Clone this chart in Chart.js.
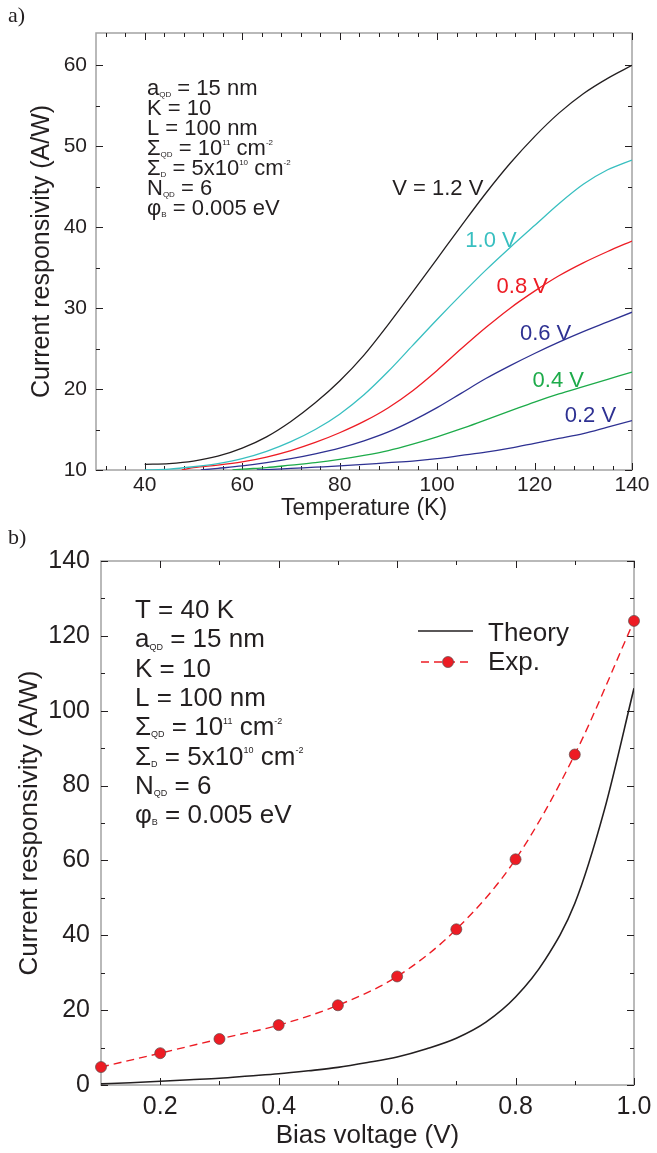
<!DOCTYPE html>
<html>
<head>
<meta charset="utf-8">
<script src="https://cdn.jsdelivr.net/npm/chart.js@4.4.0/dist/chart.umd.min.js"></script>
<style>
  body { margin: 0; background: #fff; width: 657px; height: 1153px; position: relative; overflow: hidden; }
  canvas { position: absolute; left: 0; }
  #chartA { top: 0; }
  #chartB { top: 515px; }
</style>
</head>
<body>
<canvas id="chartA" width="657" height="530"></canvas>
<canvas id="chartB" width="657" height="638"></canvas>
<script>
// ---------- panel a: responsivity vs temperature ----------
const tempA = [40, 45, 50, 55, 60, 65, 70, 75, 80, 85, 90, 95, 100, 105, 110, 115, 120, 125, 130, 135, 140];
const biasNames = ['V = 1.2 V', '1.0 V', '0.8 V', '0.6 V', '0.4 V', '0.2 V'];
const resp12 = [10.7, 10.8, 11.1, 11.7, 12.7, 14.1, 16.0, 18.3, 21.0, 24.2, 28.0, 32.0, 36.1, 40.2, 44.2, 47.9, 51.2, 54.1, 56.5, 58.4, 60.0];
const resp10 = [10.0, 10.1, 10.4, 10.8, 11.4, 12.3, 13.5, 15.0, 16.9, 19.3, 22.2, 25.4, 28.6, 31.7, 34.7, 37.5, 40.2, 42.9, 45.3, 47.1, 48.3];
const resp08 = [null, null, 10.3, 10.6, 11.0, 11.6, 12.4, 13.4, 14.6, 16.0, 17.7, 19.8, 22.3, 25.0, 27.6, 30.0, 32.1, 34.0, 35.6, 37.0, 38.3];
const resp06 = [null, null, null, 10.2, 10.5, 10.9, 11.4, 12.0, 12.7, 13.6, 14.7, 16.1, 17.7, 19.5, 21.3, 22.9, 24.4, 25.8, 27.1, 28.3, 29.5];
const resp04 = [null, null, null, null, 10.1, 10.3, 10.6, 10.9, 11.3, 11.8, 12.4, 13.2, 14.1, 15.1, 16.2, 17.3, 18.4, 19.4, 20.3, 21.2, 22.1];
const resp02 = [null, null, null, null, null, 10.05, 10.2, 10.35, 10.5, 10.7, 10.9, 11.1, 11.4, 11.8, 12.2, 12.7, 13.3, 13.9, 14.5, 15.3, 16.1];
// temperature where a curve comes up through the 10 A/W floor
const entryTemp = [40, 40, 47.6, 51.5, 58, 63];
const tempTicks = [40, 60, 80, 100, 120, 140];
const respTicksA = [10, 20, 30, 40, 50, 60];

// ---------- panel b: responsivity vs bias ----------
const biasTheory = [0.1, 0.15, 0.2, 0.25, 0.3, 0.35, 0.4, 0.45, 0.5, 0.55, 0.6, 0.65, 0.7, 0.75, 0.8, 0.85, 0.9, 0.95, 1.0];
const respTheory = [0.3, 0.6, 1.0, 1.4, 1.8, 2.4, 3.0, 3.8, 4.7, 6.0, 7.5, 9.7, 12.5, 16.8, 23.5, 33.5, 48.5, 73.5, 106];
const biasExp = [0.1, 0.2, 0.3, 0.4, 0.5, 0.6, 0.7, 0.8, 0.9, 1.0];
const respExp = [4.8, 8.5, 12.3, 16.0, 21.3, 29.0, 41.6, 60.3, 88.3, 124.0];
const biasTicks = [0.2, 0.4, 0.6, 0.8, 1.0];
const respTicksB = [0, 20, 40, 60, 80, 100, 120, 140];

const FONT = '"Liberation Sans", Arial, Helvetica, sans-serif';
const INK = '#231f20';
const curveColors = ['#231f20', '#38bfc0', '#ed1c24', '#2e3192', '#1dab4a', '#2e3192'];

Chart.defaults.font.family = FONT;
Chart.defaults.color = INK;

function curve(values, entry) {
  const pts = [];
  if (values[0] === null) pts.push({ x: entry, y: 10 });
  tempA.forEach((t, i) => { if (values[i] !== null) pts.push({ x: t, y: values[i] }); });
  return pts;
}

function range(from, to, step, skip) {
  const out = [];
  for (let v = from; v <= to + 1e-9; v += step) {
    const r = Math.round(v * 1000) / 1000;
    if (!skip.some(s => Math.abs(s - r) < 1e-6)) out.push(r);
  }
  return out;
}

// frame plus inward ticks on all four sides
function frameTicks(xMajor, xMinor, yMajor, yMinor) {
  return {
    id: 'frameTicks',
    beforeDatasetsDraw(chart) {
      const { ctx, chartArea: a, scales } = chart;
      ctx.save();
      ctx.strokeStyle = '#a3a3a3';
      ctx.lineWidth = 1.5;
      ctx.strokeRect(a.left, a.top, a.right - a.left, a.bottom - a.top);
      ctx.strokeStyle = INK;
      ctx.lineWidth = 1;
      ctx.beginPath();
      const xt = (vals, len) => vals.forEach(v => {
        const px = Math.round(scales.x.getPixelForValue(v)) + 0.5;
        ctx.moveTo(px, a.bottom); ctx.lineTo(px, a.bottom - len);
        ctx.moveTo(px, a.top); ctx.lineTo(px, a.top + len);
      });
      const yt = (vals, len) => vals.forEach(v => {
        const py = Math.round(scales.y.getPixelForValue(v)) + 0.5;
        ctx.moveTo(a.left, py); ctx.lineTo(a.left + len, py);
        ctx.moveTo(a.right, py); ctx.lineTo(a.right - len, py);
      });
      xt(xMajor, 7); xt(xMinor, 4); yt(yMajor, 7); yt(yMinor, 4);
      ctx.stroke();
      ctx.restore();
    }
  };
}

function drawRich(ctx, x, y, parts, size, small) {
  let cx = x;
  parts.forEach(([txt, kind]) => {
    let dy = 0, fs = size;
    if (kind === 'sub') { fs = small; dy = small * 0.25; }
    if (kind === 'sup') { fs = small; dy = -size * 0.45; }
    ctx.font = fs + 'px ' + FONT;
    ctx.fillText(txt, cx, y + dy);
    cx += ctx.measureText(txt).width;
  });
}

const paramLines = [
  [['a'], ['QD', 'sub'], [' = 15 nm']],
  [['K = 10']],
  [['L = 100 nm']],
  [['Σ'], ['QD', 'sub'], [' = 10'], ['11', 'sup'], [' cm'], ['-2', 'sup']],
  [['Σ'], ['D', 'sub'], [' = 5x10'], ['10', 'sup'], [' cm'], ['-2', 'sup']],
  [['N'], ['QD', 'sub'], [' = 6']],
  [['φ'], ['B', 'sub'], [' = 0.005 eV']]
];

function axisFit(width, height) {
  return s => {
    if (width) { s.width = width; s.paddingTop = 0; s.paddingBottom = 0; }
    if (height) { s.height = height; s.paddingLeft = 0; s.paddingRight = 0; }
  };
}

// ---------- chart a ----------
const seriesA = [resp12, resp10, resp08, resp06, resp04, resp02];
const labelAt = [[90.8, 44.0], [105.8, 37.5], [112.2, 31.9], [117, 26.1], [119.6, 20.3], [126.2, 15.9]];

const annotateA = {
  id: 'annotateA',
  afterDatasetsDraw(chart) {
    const { ctx, scales } = chart;
    ctx.save();
    ctx.fillStyle = INK;
    ctx.textBaseline = 'alphabetic';
    paramLines.forEach((parts, i) => drawRich(ctx, 147, 95 + i * 20, parts, 22, 8));
    ctx.font = '22px ' + FONT;
    biasNames.forEach((name, i) => {
      ctx.fillStyle = curveColors[i];
      ctx.fillText(name, scales.x.getPixelForValue(labelAt[i][0]), scales.y.getPixelForValue(labelAt[i][1]));
    });
    ctx.fillStyle = INK;
    ctx.font = '22px "Liberation Serif", "Times New Roman", serif';
    ctx.fillText('a)', 8, 22);
    ctx.restore();
  }
};

new Chart(document.getElementById('chartA'), {
  type: 'line',
  data: {
    datasets: seriesA.map((vals, i) => ({
      label: biasNames[i],
      data: curve(vals, entryTemp[i]),
      borderColor: curveColors[i],
      borderWidth: 1.3,
      pointRadius: 0,
      cubicInterpolationMode: 'monotone'
    }))
  },
  options: {
    responsive: false,
    animation: false,
    layout: { padding: { left: 0, top: 33, right: 25, bottom: 0 } },
    plugins: { legend: { display: false }, tooltip: { enabled: false } },
    scales: {
      x: {
        type: 'linear', min: 30, max: 140,
        afterBuildTicks: s => { s.ticks = tempTicks.map(v => ({ value: v })); },
        afterFit: axisFit(0, 60),
        grid: { display: false, drawTicks: false },
        border: { display: false },
        ticks: { font: { size: 21 }, color: INK, padding: 3, maxRotation: 0 },
        title: { display: true, text: 'Temperature (K)', font: { size: 23 }, color: INK, padding: { top: 0, bottom: 8 } }
      },
      y: {
        type: 'linear', min: 10, max: 64,
        afterBuildTicks: s => { s.ticks = respTicksA.map(v => ({ value: v })); },
        afterFit: axisFit(96, 0),
        grid: { display: false, drawTicks: false },
        border: { display: false },
        ticks: { font: { size: 21 }, color: INK, padding: 9 },
        title: { display: true, text: 'Current responsivity (A/W)', font: { size: 25 }, color: INK, padding: { top: 27, bottom: 0 } }
      }
    }
  },
  plugins: [
    frameTicks(tempTicks, range(32, 136, 4, tempTicks), respTicksA, range(15, 55, 10, [])),
    annotateA
  ]
});

// ---------- chart b ----------
const annotateB = {
  id: 'annotateB',
  afterDatasetsDraw(chart) {
    const { ctx } = chart;
    const ds = chart.data.datasets;
    ctx.save();
    ctx.fillStyle = INK;
    ctx.textBaseline = 'alphabetic';
    const lines = [[['T = 40 K']]].concat(paramLines);
    lines.forEach((parts, i) => drawRich(ctx, 135, 103 + i * 29.3, parts, 26, 9));

    // legend
    ctx.font = '26px ' + FONT;
    ctx.strokeStyle = ds[0].borderColor;
    ctx.lineWidth = 1.6;
    ctx.beginPath(); ctx.moveTo(418, 116); ctx.lineTo(473, 116); ctx.stroke();
    ctx.fillText(ds[0].label, 488, 126);
    ctx.strokeStyle = ds[1].borderColor;
    ctx.lineWidth = 1.4;
    ctx.setLineDash(ds[1].borderDash);
    ctx.beginPath(); ctx.moveTo(421, 147); ctx.lineTo(471, 147); ctx.stroke();
    ctx.setLineDash([]);
    ctx.beginPath(); ctx.arc(448, 147, 5.5, 0, Math.PI * 2);
    ctx.fillStyle = ds[1].pointBackgroundColor; ctx.fill();
    ctx.strokeStyle = ds[1].pointBorderColor; ctx.lineWidth = 0.7; ctx.stroke();
    ctx.fillStyle = INK;
    ctx.fillText(ds[1].label, 488, 155);

    ctx.font = '22px "Liberation Serif", "Times New Roman", serif';
    ctx.fillText('b)', 8, 29);
    ctx.restore();
  }
};

new Chart(document.getElementById('chartB'), {
  type: 'line',
  data: {
    datasets: [
      {
        label: 'Theory',
        data: biasTheory.map((v, i) => ({ x: v, y: respTheory[i] })),
        borderColor: INK,
        borderWidth: 1.6,
        pointRadius: 0,
        cubicInterpolationMode: 'monotone'
      },
      {
        label: 'Exp.',
        data: biasExp.map((v, i) => ({ x: v, y: respExp[i] })),
        borderColor: '#ed1c24',
        borderWidth: 1.4,
        borderDash: [8, 5],
        pointRadius: 5.5,
        pointBackgroundColor: '#ed1c24',
        pointBorderColor: '#5c4a4a',
        pointBorderWidth: 0.7,
        cubicInterpolationMode: 'monotone',
        clip: false
      }
    ]
  },
  options: {
    responsive: false,
    animation: false,
    layout: { padding: { left: 0, top: 46, right: 23, bottom: 0 } },
    plugins: { legend: { display: false }, tooltip: { enabled: false } },
    scales: {
      x: {
        type: 'linear', min: 0.1, max: 1.0,
        afterBuildTicks: s => { s.ticks = biasTicks.map(v => ({ value: v })); },
        afterFit: axisFit(0, 68),
        grid: { display: false, drawTicks: false },
        border: { display: false },
        ticks: { font: { size: 25 }, color: INK, padding: 7, maxRotation: 0, callback: v => v.toFixed(1) },
        title: { display: true, text: 'Bias voltage (V)', font: { size: 26 }, color: INK, padding: { top: 0, bottom: 2 } }
      },
      y: {
        type: 'linear', min: 0, max: 140,
        afterBuildTicks: s => { s.ticks = respTicksB.map(v => ({ value: v })); },
        afterFit: axisFit(101, 0),
        grid: { display: false, drawTicks: false },
        border: { display: false },
        ticks: { font: { size: 25 }, color: INK, padding: 11 },
        title: { display: true, text: 'Current responsivity (A/W)', font: { size: 26 }, color: INK, padding: { top: 14, bottom: 0 } }
      }
    }
  },
  plugins: [
    frameTicks(biasTicks, [0.3, 0.5, 0.7, 0.9], respTicksB, range(10, 130, 20, [])),
    annotateB
  ]
});
</script>
</body>
</html>
